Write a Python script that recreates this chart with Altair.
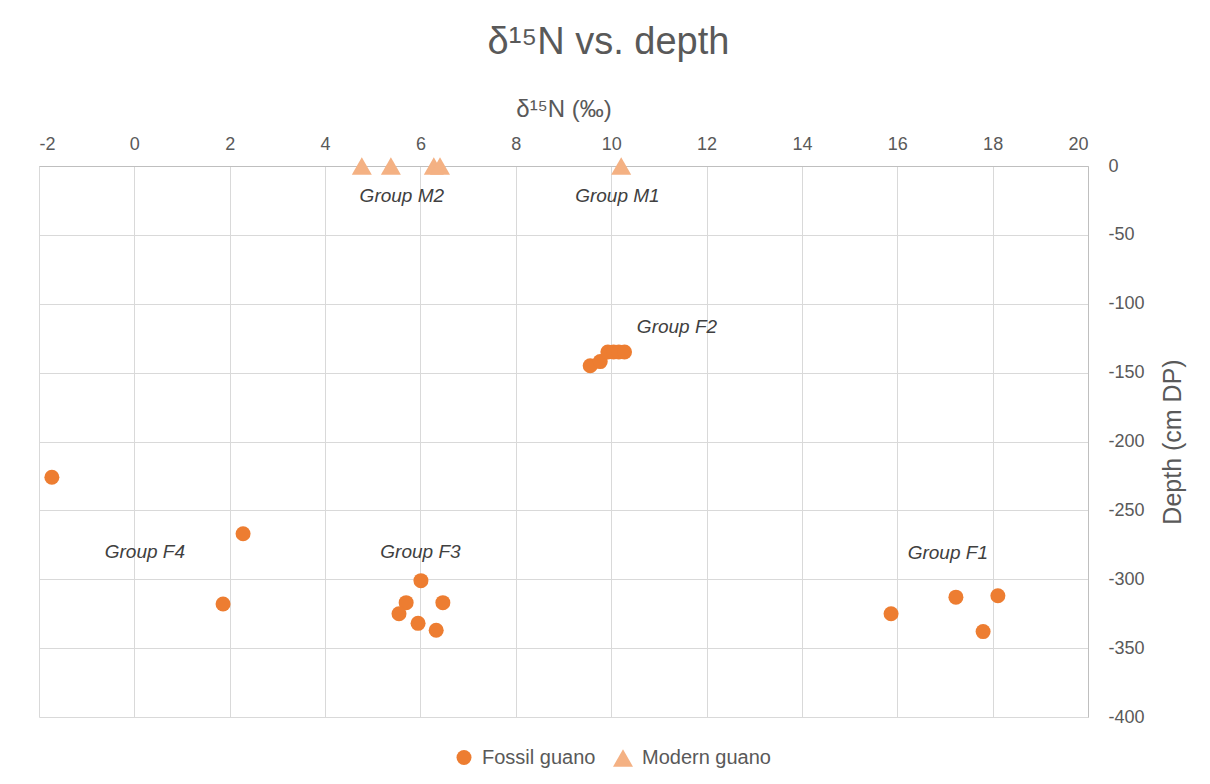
import altair as alt
import pandas as pd

# Fossil guano samples (d15N permil, depth cm DP)
fossil_x = [-1.73, 2.28, 1.86, 9.56, 9.77, 9.93, 10.05, 10.16, 10.28,
            6.01, 5.70, 5.55, 5.95, 6.33, 6.47, 15.87, 17.23, 18.11, 17.80]
fossil_y = [-226, -267, -318, -145, -142, -135, -135, -135, -135,
            -301, -317, -325, -332, -337, -317, -325, -313, -312, -338]

# Modern guano samples
modern_x = [4.77, 5.38, 6.28, 6.41, 10.21]
modern_y = [0, 0, 0, 0, 0]

# Group labels
label_text = ["Group M2", "Group M1", "Group F2", "Group F4", "Group F3", "Group F1"]
label_x = [5.61, 10.13, 11.38, 0.22, 6.0, 17.06]
label_y = [-22, -22, -117, -280, -280, -281]

series_names = ["Fossil guano", "Modern guano"]
series_colors = ["#ED7D31", "#F4B183"]
series_shapes = ["circle", "triangle-up"]

pts = pd.DataFrame({
    "x": fossil_x + modern_x,
    "y": fossil_y + modern_y,
    "type": [series_names[0]] * len(fossil_x) + [series_names[1]] * len(modern_x),
})
labels = pd.DataFrame({"text": label_text, "x": label_x, "y": label_y})

FONT = "Liberation Sans"
GREY = "#595959"

xscale = alt.Scale(domain=[-2, 20], nice=False, zero=False)
yscale = alt.Scale(domain=[-400, 0], nice=False, zero=False)

points = alt.Chart(pts).mark_point(filled=True, opacity=1).encode(
    x=alt.X("x:Q", scale=xscale,
            axis=alt.Axis(orient="top", title="δ¹⁵N (‰)", values=list(range(-2, 21, 2)),
                          labelExpr="'' + datum.value",
                          ticks=False, labelPadding=13, titlePadding=14,
                          labelFontSize=18, titleFontSize=24, labelColor=GREY,
                          titleColor=GREY, titleFontWeight="normal",
                          domainColor="#bfbfbf", gridColor="#d9d9d9",
                          labelFont=FONT, titleFont=FONT)),
    y=alt.Y("y:Q", scale=yscale,
            axis=alt.Axis(orient="right", title="Depth (cm DP)", values=list(range(-400, 1, 50)),
                          labelExpr="'' + datum.value",
                          ticks=False, labelPadding=20, titlePadding=41, titleAngle=270,
                          labelFontSize=18, titleFontSize=25, labelColor=GREY,
                          titleColor=GREY, titleFontWeight="normal",
                          domainColor="#bfbfbf", gridColor="#d9d9d9",
                          labelFont=FONT, titleFont=FONT)),
    color=alt.Color("type:N", scale=alt.Scale(domain=series_names, range=series_colors),
                    legend=alt.Legend(title=None, orient="none", direction="horizontal",
                                      legendX=415, legendY=581, labelFontSize=20,
                                      labelColor=GREY, labelFont=FONT, symbolSize=270,
                                      labelOffset=8, columnPadding=16, symbolOpacity=1)),
    shape=alt.Shape("type:N", scale=alt.Scale(domain=series_names, range=series_shapes),
                    legend=None),
    size=alt.Size("type:N", scale=alt.Scale(domain=series_names, range=[225, 400]),
                  legend=None),
)

texts = alt.Chart(labels).mark_text(fontStyle="italic", fontSize=19, color="#404040",
                                    font=FONT).encode(
    x=alt.X("x:Q", scale=xscale),
    y=alt.Y("y:Q", scale=yscale),
    text="text:N",
)

chart = alt.layer(points, texts).properties(
    width=1049, height=551,
    title=alt.TitleParams("δ¹⁵N vs. depth", fontSize=38, color=GREY, font=FONT,
                          fontWeight="normal", anchor="middle", dx=45, offset=35),
    autosize=alt.AutoSizeParams(type="none"),
    padding={"left": 31, "top": 158, "right": 100, "bottom": 68},
).configure_view(stroke=None)

chart.save("out.html", embed_options={"renderer": "svg", "actions": False})
